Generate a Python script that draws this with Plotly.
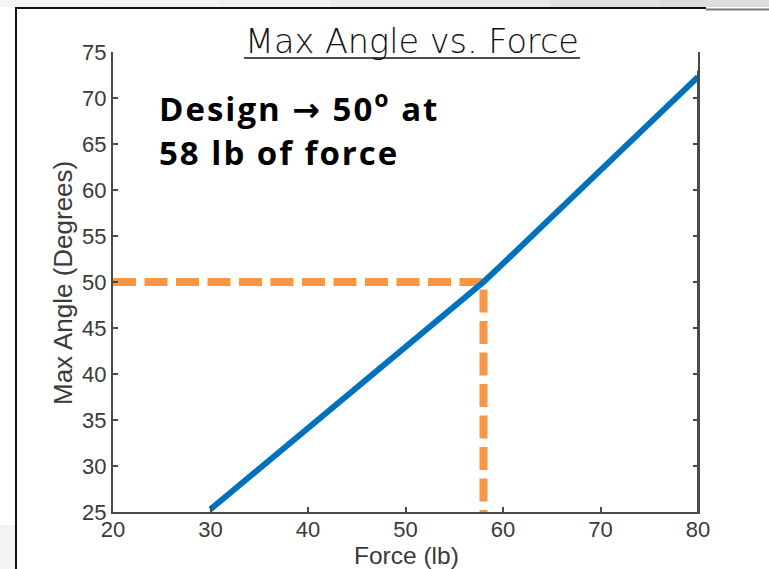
import plotly.graph_objects as go

# Measured relationship between applied force and the maximum angle reached
force_lb = [30, 40, 50, 58, 60, 70, 80]
max_angle_deg = [25.3, 34.1, 43.0, 50, 52.0, 62.2, 72.3]

# Chosen design point
design_force = 58
design_angle = 50

x_ticks = [20, 30, 40, 50, 60, 70, 80]
y_ticks = [25, 30, 35, 40, 45, 50, 55, 60, 65, 70, 75]

W, H = 769, 569
L, R, T, B = 113, 71, 52, 57
PW, PH = W - L - R, H - T - B


def px(xp):
    return (xp - L) / PW


def py(yp):
    return (H - B - yp) / PH


AXIS = "#4a4a4a"
TICKTXT = "#3a3a3a"
BLUE = "#0072BD"
ORANGE = "#F79646"
SANS = "Liberation Sans, Arial"

fig = go.Figure()

# dashed guides to the design point
fig.add_trace(go.Scatter(
    x=[x_ticks[0], design_force, design_force],
    y=[design_angle, design_angle, y_ticks[0]],
    mode="lines",
    line=dict(color=ORANGE, width=8, dash="23px,8.5px"),
    hoverinfo="skip", showlegend=False,
))

fig.add_trace(go.Scatter(
    x=force_lb, y=max_angle_deg, mode="lines",
    line=dict(color=BLUE, width=6),
    showlegend=False,
))

axis_common = dict(
    showgrid=False, zeroline=False, showline=True, linecolor=AXIS, linewidth=2,
    ticks="inside", ticklen=5, tickwidth=1.5, tickcolor=AXIS,
    tickfont=dict(family=SANS, size=22, color=TICKTXT),
)

fig.update_xaxes(range=[x_ticks[0], x_ticks[-1]], tickvals=x_ticks,
                 ticklabelstandoff=-3, **axis_common)
fig.update_yaxes(range=[y_ticks[0], y_ticks[-1]], tickvals=y_ticks, mirror="ticks",
                 **axis_common)

shapes = []
# right-hand box edge
shapes.append(dict(type="line", xref="x", yref="y", x0=80, x1=80, y0=25, y1=73,
                   line=dict(color=AXIS, width=2)))
# light slide background strip along the top
strip = ["#f4f4f4", "#f3f3f3", "#f1f1f1", "#ededed", "#e8e8e8", "#e2e2e2", "#dcdcdc"]
n = len(strip)
for i, c in enumerate(strip):
    shapes.append(dict(type="rect", xref="paper", yref="paper",
                       x0=px(W * i / n), x1=px(W * (i + 1) / n), y0=py(7), y1=py(0),
                       line=dict(width=0), fillcolor=c, layer="below"))
shapes.append(dict(type="rect", xref="paper", yref="paper",
                   x0=px(0), x1=px(15), y0=py(H), y1=py(525),
                   line=dict(width=0), fillcolor="#f3f3f3", layer="below"))
# frame lines
shapes.append(dict(type="line", xref="paper", yref="paper",
                   x0=px(16), x1=px(706), y0=py(8), y1=py(8),
                   line=dict(color="#111111", width=2)))
shapes.append(dict(type="line", xref="paper", yref="paper",
                   x0=px(706), x1=px(W), y0=py(9.5), y1=py(9.5),
                   line=dict(color="#777777", width=2)))
shapes.append(dict(type="line", xref="paper", yref="paper",
                   x0=px(16), x1=px(16), y0=py(7), y1=py(H),
                   line=dict(color="#111111", width=2)))
# title underline
shapes.append(dict(type="line", xref="paper", yref="paper",
                   x0=px(244), x1=px(580), y0=py(58), y1=py(58),
                   line=dict(color="#111111", width=1.5)))

BIG = "Open Sans"
annotations = [
    dict(text="Max Angle vs. Force", xref="paper", yref="paper",
         x=px(411.5), y=py(42), xanchor="center", yanchor="middle", showarrow=False,
         font=dict(family="DejaVu Sans", size=33.5, weight=200, color="#111111")),
    dict(text=('<span style="letter-spacing:2px"><b>Design '
               '<span style="font-family:DejaVu Sans">→</span> 50<sup>o</sup> at</b></span>'),
         xref="paper", yref="paper",
         x=px(157), y=py(107), xanchor="left", yanchor="middle", showarrow=False,
         font=dict(family=BIG, size=33, color="#000000")),
    dict(text='<span style="letter-spacing:2px"><b>58 lb of force</b></span>',
         xref="paper", yref="paper",
         x=px(157), y=py(153), xanchor="left", yanchor="middle", showarrow=False,
         font=dict(family=BIG, size=33, color="#000000")),
    # axis titles
    dict(text="Force (lb)", xref="paper", yref="paper",
         x=px(406.5), y=py(555), xanchor="center", yanchor="middle", showarrow=False,
         font=dict(family=SANS, size=24.5, color=TICKTXT)),
    dict(text="Max Angle (Degrees)", xref="paper", yref="paper", textangle=-90,
         x=px(63), y=py(283), xanchor="center", yanchor="middle", showarrow=False,
         font=dict(family=SANS, size=26, color=TICKTXT)),
]

fig.update_layout(
    width=W, height=H,
    margin=dict(l=L, r=R, t=T, b=B),
    paper_bgcolor="white", plot_bgcolor="white",
    shapes=shapes, annotations=annotations,
)

fig.write_html("out.html")
